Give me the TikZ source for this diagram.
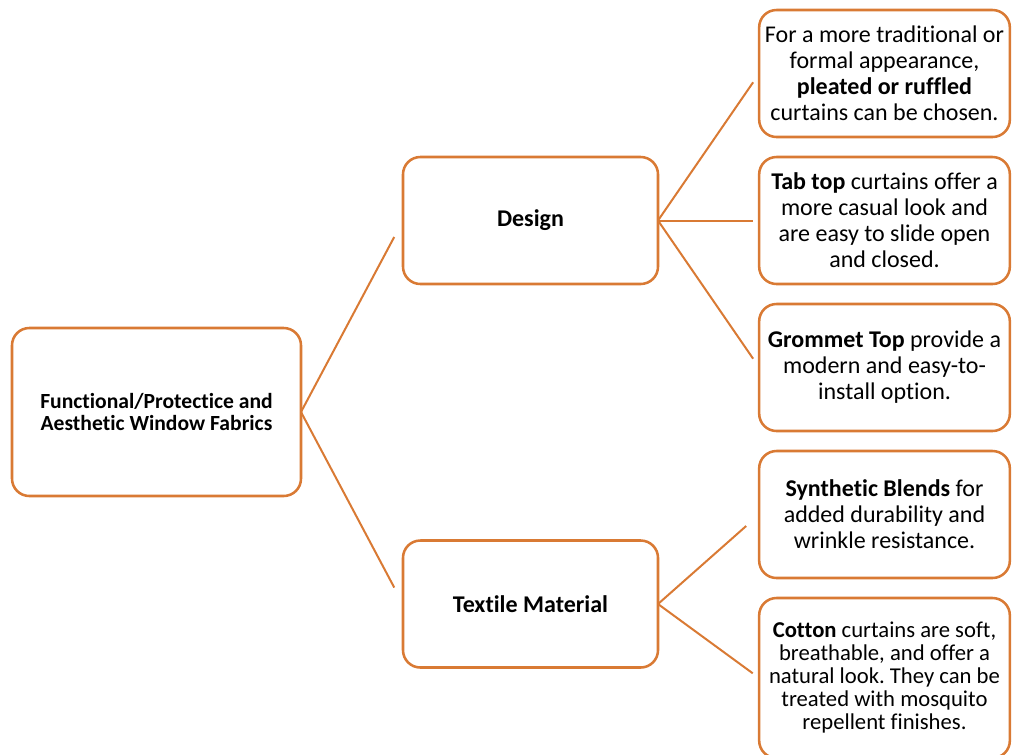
\documentclass[tikz,border=0pt]{standalone}
\usepackage{fontspec}
\setmainfont{Carlito}[Ligatures=NoCommon]
\usepackage{xcolor}
\usetikzlibrary{positioning}
\definecolor{boxorange}{RGB}{217,122,52}
\frenchspacing

\begin{document}
\begin{tikzpicture}[x=0.75pt, y=-0.75pt,
  box/.style={draw=boxorange, line width=1.9pt, rounded corners=13pt, fill=white, align=center, inner sep=2pt, outer sep=0pt},
  leafbox/.style={box, minimum width=188pt, minimum height=95.25pt, font=\fontsize{18}{19.5}\selectfont},
  link/.style={draw=boxorange, line width=1.5pt}]
\useasboundingbox (0,0) rectangle (1012,754);
% root and branches
\node[box, minimum width=216.75pt, minimum height=126pt, font=\fontsize{16.2}{16.5}\selectfont\bfseries] (root) at (156.5,412) {Functional/Protectice and\\Aesthetic Window Fabrics};
\node[box, minimum width=191.25pt, minimum height=95.25pt, font=\fontsize{18}{19.5}\selectfont\bfseries] (design) at (530.5,220.5) {Design};
\node[box, minimum width=191.25pt, minimum height=95.25pt, font=\fontsize{18}{19.5}\selectfont\bfseries] (textile) at (530.5,604) {Textile Material};
% leaves
\node[leafbox] (l1) at (884.5,73.5) {For a more traditional or\\formal appearance,\\\textbf{pleated or ruffled}\\curtains can be chosen.};
\node[leafbox, below=15pt of l1] (l2) {\textbf{Tab top} curtains offer a\\more casual look and\\are easy to slide open\\and closed.};
\node[leafbox, below=15pt of l2] (l3) {\textbf{Grommet Top} provide a\\modern and easy-to-\\install option.};
\node[leafbox, below=15pt of l3] (l4) {\textbf{Synthetic Blends} for\\added durability and\\wrinkle resistance.};
\node[leafbox, below=15pt of l4, minimum height=120pt, font=\fontsize{17}{17.25}\selectfont] (l5) {\textbf{Cotton} curtains are soft,\\breathable, and offer a\\natural look. They can be\\treated with mosquito\\repellent finishes.};
% connectors
\draw[link, shorten >=14pt] (root.east) -- (design.west);
\draw[link, shorten >=14pt] (root.east) -- (textile.west);
\draw[link, shorten >=8pt] (design.east) -- (l1.west);
\draw[link, shorten >=5pt] (design.east) -- (l2.west);
\draw[link, shorten >=8pt] (design.east) -- (l3.west);
\draw[link, shorten >=13pt] (textile.east) -- (l4.west);
\draw[link, shorten >=6pt] (textile.east) -- (l5.west);
\end{tikzpicture}
\end{document}
